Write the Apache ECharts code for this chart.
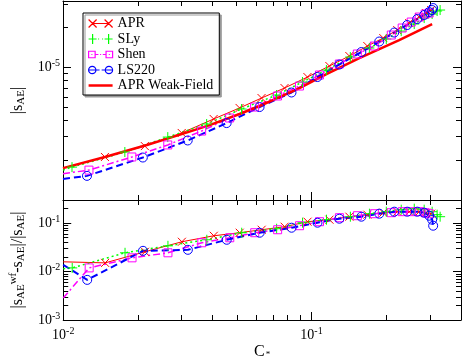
<!DOCTYPE html>
<html>
<head>
<meta charset="utf-8">
<script src="https://cdn.jsdelivr.net/npm/echarts@6/dist/echarts.min.js"></script>
<style>html,body{margin:0;padding:0;background:#fff}#main{width:463px;height:361px}</style>
</head>
<body>
<div id="main"></div>
<script>
// compactness C* for each EOS sequence
var cApr = [0.0100, 0.01475, 0.02135, 0.03005, 0.04040, 0.05138, 0.06298, 0.07793, 0.09636, 0.1181, 0.1421, 0.1679, 0.1946, 0.2215, 0.2475, 0.2716, 0.2896, 0.3033];
var cSly = [0.0100, 0.01087, 0.01774, 0.02641, 0.03787, 0.05234, 0.07236, 0.09203, 0.1149, 0.1434, 0.1711, 0.2001, 0.2298, 0.2593, 0.2843, 0.3061, 0.3206, 0.3296];
var cShen = [0.0100, 0.01272, 0.01893, 0.02641, 0.03615, 0.04685, 0.05905, 0.07304, 0.08951, 0.1077, 0.1295, 0.1530, 0.1791, 0.2096, 0.2319, 0.2521, 0.2716, 0.2870, 0.2978];
var cLs = [0.0100, 0.01249, 0.02096, 0.03177, 0.04556, 0.06183, 0.08313, 0.1057, 0.1295, 0.1588, 0.1875, 0.2154, 0.2429, 0.2666, 0.2843, 0.2978, 0.3061, 0.3090];
var cWf = [0.0100, 0.01475, 0.02175, 0.03005, 0.03893, 0.05138, 0.06183, 0.07440, 0.08951, 0.1149, 0.1559, 0.2256, 0.3061];

// |s_AE| in units of 1e-6
var S_UNIT = 1e-6;
var sApr = [1.74, 2.11, 2.55, 3.20, 4.08, 4.94, 5.87, 6.98, 8.45, 10.23, 12.17, 14.47, 16.63, 19.10, 21.57, 23.94, 25.66, 27.03];
var sSly = [1.68, 1.77, 2.30, 2.98, 3.74, 4.85, 6.18, 7.75, 9.54, 11.96, 13.98, 16.35, 18.77, 21.20, 23.52, 25.22, 26.57, 27.03];
var sShen = [1.58, 1.68, 2.11, 2.60, 3.31, 4.15, 5.02, 6.08, 7.23, 8.75, 10.59, 12.60, 14.47, 17.52, 19.78, 21.95, 23.94, 25.22, 25.66];
var sLs = [1.44, 1.52, 2.09, 2.81, 3.80, 5.02, 6.46, 8.45, 10.50, 13.04, 15.65, 18.29, 20.84, 23.12, 24.78, 26.11, 27.03, 27.98];
var sWf = [1.74, 2.11, 2.60, 3.14, 3.67, 4.45, 5.11, 5.97, 6.98, 8.90, 11.75, 16.06, 21.20];

// |s_AE^wf - s_AE| / |s_AE|
var dApr = [0.0159, 0.0151, 0.0256, 0.0412, 0.0548, 0.0633, 0.0730, 0.0843, 0.1069, 0.1176, 0.1357, 0.1492, 0.1641, 0.1722, 0.1722, 0.1722, 0.1641, 0.1565];
var dSly = [0.0114, 0.0119, 0.0244, 0.0340, 0.0453, 0.0633, 0.0766, 0.1019, 0.1176, 0.1357, 0.1565, 0.1722, 0.1894, 0.1987, 0.1894, 0.1722, 0.1492, 0.1357];
var dShen = [0.00285, 0.0119, 0.0192, 0.0244, 0.0393, 0.0498, 0.0633, 0.0730, 0.0884, 0.1069, 0.1294, 0.1422, 0.1565, 0.1641, 0.1722, 0.1722, 0.1722, 0.1641, 0.1565];
var dLs = [0.0138, 0.00673, 0.0268, 0.0281, 0.0453, 0.0633, 0.0803, 0.1019, 0.1233, 0.1357, 0.1565, 0.1722, 0.1722, 0.1722, 0.1641, 0.1422, 0.1176, 0.0884];

// axis ranges and ticks
var xRange = [0.01, 0.4];
var topRange = [1e-6, 3.162e-5];
var botRange = [1e-3, 0.3];
var xMajor = [0.01, 0.1];
var xMinor = [0.02, 0.03, 0.04, 0.05, 0.06, 0.07, 0.08, 0.09, 0.2, 0.3];
var topMajor = [1e-6, 1e-5];
var topMinor = [2e-6, 3e-6, 4e-6, 5e-6, 6e-6, 7e-6, 8e-6, 9e-6, 2e-5, 3e-5];
var topLabels = [1e-5];
var botMajor = [1e-3, 1e-2, 1e-1];
var botMinor = [2e-3, 3e-3, 4e-3, 5e-3, 6e-3, 7e-3, 8e-3, 9e-3, 2e-2, 3e-2, 4e-2, 5e-2, 6e-2, 7e-2, 8e-2, 9e-2, 2e-1];
var botLabels = [1e-3, 1e-2, 1e-1];
var xLabels = [0.01, 0.1];

var FONT = 'Liberation Serif';
var L = function (v) { return Math.log10(v); };

var myChart = echarts.init(document.getElementById('main'));

var powRich = {
	b: {fontSize: 14, fontFamily: FONT, color: '#000'},
	s: {fontSize: 10, fontFamily: FONT, color: '#000', padding: [0, 0, 8, 0]}
};
function powLabel(v) {
	return '{b|10}{s|' + Math.round(v) + '}';
}

// decoration axes in log10 space: frame, ticks, labels
function helper(grid, pos, range, ticks, len, line, labels, extra) {
	var ax = {
		type: 'value', gridIndex: grid, position: pos,
		min: L(range[0]), max: L(range[1]),
		axisLine: {show: line, onZero: false, lineStyle: {color: '#000', width: 1}},
		axisTick: {show: true, inside: true, length: len, customValues: ticks.map(L), lineStyle: {color: '#000', width: 1}},
		axisLabel: {show: false},
		splitLine: {show: false}
	};
	if (labels) {
		ax.axisLabel = {show: true, customValues: labels.map(L), margin: 3, formatter: powLabel, rich: powRich};
	}
	if (extra) {
		for (var k in extra) ax[k] = extra[k];
	}
	return ax;
}

var xAxes = [
	{type: 'log', gridIndex: 0, min: xRange[0], max: xRange[1], show: false},
	{type: 'log', gridIndex: 1, min: xRange[0], max: xRange[1], show: false}
];
var yAxes = [
	{type: 'log', gridIndex: 0, min: topRange[0], max: topRange[1], show: false},
	{type: 'log', gridIndex: 1, min: botRange[0], max: botRange[1], show: false}
];

[0, 1].forEach(function (g) {
	var yr = g === 0 ? topRange : botRange;
	var yMaj = g === 0 ? topMajor : botMajor;
	var yMin = g === 0 ? topMinor : botMinor;
	xAxes.push(helper(g, 'bottom', xRange, xMajor, 8, true, null, g === 1 ? {
		axisLabel: {show: true, customValues: xLabels.map(L), margin: 6, formatter: powLabel, rich: powRich},
		name: '{c|C}{a|*}', nameLocation: 'middle', nameGap: 24,
		nameTextStyle: {rich: {
			c: {fontSize: 16, fontFamily: FONT, color: '#000'},
			a: {fontSize: 9, fontFamily: FONT, color: '#000', padding: [6, 0, 0, 1]}
		}}
	} : null));
	xAxes.push(helper(g, 'bottom', xRange, xMinor, 5, false, null));
	xAxes.push(helper(g, 'top', xRange, xMajor, 8, true, null));
	xAxes.push(helper(g, 'top', xRange, xMinor, 5, false, null));

	var yName = g === 0 ?
		'{t||s}{u|AE}{t||}' :
		'{t||s}{u|AE}{p|wf}{t|-s}{u|AE}{t||/|s}{u|AE}{t||}';
	yAxes.push(helper(g, 'left', yr, yMaj, 8, true, g === 0 ? topLabels : botLabels, {
		name: yName, nameLocation: 'middle', nameGap: 34, nameRotate: 90,
		nameTextStyle: {rich: {
			t: {fontSize: 16, fontFamily: FONT, color: '#000'},
			u: {fontSize: 11, fontFamily: FONT, color: '#000', padding: [7, 0, 0, 0]},
			p: {fontSize: 11, fontFamily: FONT, color: '#000', padding: [0, 0, 9, 0]}
		}}
	}));
	yAxes.push(helper(g, 'left', yr, yMin, 5, false, null));
	yAxes.push(helper(g, 'right', yr, yMaj, 8, true, null));
	yAxes.push(helper(g, 'right', yr, yMin, 5, false, null));
});

var symX = 'path://M0,0L10,10M10,0L0,10';
var symPlus = 'path://M5,0L5,10M0,5L10,5';

var styles = {
	'APR': {color: 'rgb(255,0,0)', symbol: symX, size: 8, width: 1, type: 'solid', fill: true,
		icon: 'path://M0,0L8,8M8,0L0,8M16,0L24,8M24,0L16,8M4,4L20,4'},
	'SLy': {color: '#00ff00', symbol: symPlus, size: 10, width: 1.5, type: [2, 3], fill: true,
		icon: 'path://M4,0L4,10M0,5L8,5M20,0L20,10M16,5L24,5M9.5,5L10.5,5M13.5,5L14.5,5'},
	'Shen': {color: '#ff00ff', symbol: 'rect', size: 8, width: 1.5, type: [7, 3, 2, 3], fill: false,
		icon: 'path://M1,2L7,2L7,8L1,8ZM17,2L23,2L23,8L17,8ZM7,5L10,5M11.5,5L12.5,5M14,5L17,5M3.5,5L4.5,5M19.5,5L20.5,5'},
	'LS220': {color: '#0000ff', symbol: 'circle', size: 9, width: 2, type: [7, 4], fill: false,
		icon: 'path://M7.5,5A3.5,3.5,0,1,1,0.5,5A3.5,3.5,0,1,1,7.5,5ZM23.5,5A3.5,3.5,0,1,1,16.5,5A3.5,3.5,0,1,1,23.5,5ZM0.5,5L11,5M13,5L23.5,5'},
	'APR Weak-Field': {color: '#ff0000', symbol: 'none', size: 0, width: 2.5, type: 'solid', fill: true,
		icon: 'path://M0,0L24,0L24,2.5L0,2.5Z'}
};

function mk(name, cs, vs, unit, g) {
	var st = styles[name];
	return {
		type: 'line', name: name, xAxisIndex: g, yAxisIndex: g,
		data: cs.map(function (c, i) {
			var p = [c, vs[i] * unit];
			return i === 0 ? {value: p, symbol: 'none'} : p;
		}),
		symbol: st.symbol, symbolSize: st.size, showAllSymbol: true,
		lineStyle: {color: st.color, width: st.width, type: st.type},
		itemStyle: {color: 'rgba(0,0,0,0)', borderColor: st.color, borderWidth: 1},
		emphasis: {disabled: true},
		clip: true
	};
}

var legendNames = ['APR', 'SLy', 'Shen', 'LS220', 'APR Weak-Field'];

var option = {
	animation: false,
	backgroundColor: '#fff',
	grid: [
		{left: 63, top: 1, width: 398, height: 199},
		{left: 63, top: 200, width: 398, height: 120}
	],
	legend: {
		data: legendNames.map(function (n) {
			var st = styles[n];
			return {
				name: n, icon: st.icon,
				itemStyle: {
					color: st.fill ? st.color : 'rgba(0,0,0,0)',
					borderColor: st.color,
					borderWidth: n === 'APR Weak-Field' ? 0 : 1.2,
					opacity: 1
				}
			};
		}),
		orient: 'vertical', left: 83, top: 13,
		padding: [3, 6, 2, 5], itemGap: 0.5, itemWidth: 24, itemHeight: 10,
		backgroundColor: '#fff', borderColor: '#000', borderWidth: 1, borderRadius: 0,
		shadowColor: '#999', shadowOffsetX: 2, shadowOffsetY: 2, shadowBlur: 0,
		selectedMode: false,
		textStyle: {fontFamily: FONT, fontSize: 14, color: '#000', lineHeight: 15}
	},
	xAxis: xAxes,
	yAxis: yAxes,
	series: [
		mk('APR', cApr, sApr, S_UNIT, 0),
		mk('SLy', cSly, sSly, S_UNIT, 0),
		mk('Shen', cShen, sShen, S_UNIT, 0),
		mk('LS220', cLs, sLs, S_UNIT, 0),
		mk('APR Weak-Field', cWf, sWf, S_UNIT, 0),
		mk('APR', cApr, dApr, 1, 1),
		mk('SLy', cSly, dSly, 1, 1),
		mk('Shen', cShen, dShen, 1, 1),
		mk('LS220', cLs, dLs, 1, 1)
	]
};

option && myChart.setOption(option);
</script>
</body>
</html>
